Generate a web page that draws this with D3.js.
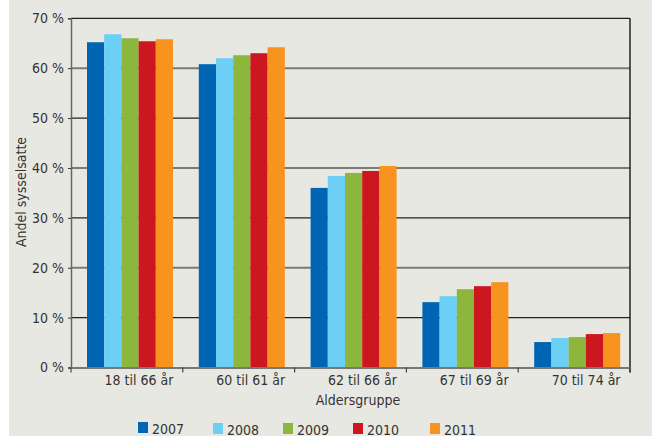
<!DOCTYPE html>
<html><head><meta charset="utf-8">
<script src="https://cdn.jsdelivr.net/npm/d3@7"></script>
<style>
html,body{margin:0;padding:0;background:#fff;}
svg text{font-family:"Liberation Sans Narrow","DejaVu Sans Condensed","Liberation Sans",sans-serif;fill:#333;}
</style></head>
<body>
<svg id="c" width="652" height="437"></svg>
<script>
const categories = ["18 til 66 år","60 til 61 år","62 til 66 år","67 til 69 år","70 til 74 år"];
const years = ["2007","2008","2009","2010","2011"];
const s2007 = [65.2, 60.8, 36.0, 13.1, 5.1];
const s2008 = [66.8, 62.0, 38.4, 14.3, 5.9];
const s2009 = [66.0, 62.6, 39.0, 15.7, 6.1];
const s2010 = [65.4, 63.0, 39.4, 16.3, 6.7];
const s2011 = [65.8, 64.2, 40.4, 17.1, 6.9];
const yTicks = [0,10,20,30,40,50,60,70];
const colors = ["#0066b3","#6ccff6","#8db63c","#cc1720","#f7931e"];
const series = [s2007,s2008,s2009,s2010,s2011];

const svg = d3.select("#c");
svg.append("rect").attr("x",9).attr("y",0).attr("width",643).attr("height",436).attr("fill","#e8e8e2");

const m = {l:71, r:630, t:18.3, b:367.5};
const x = d3.scaleBand().domain(categories).range([m.l,m.r]).paddingInner(0).paddingOuter(0);
const y = d3.scaleLinear().domain([0,70]).range([m.b,m.t]);
const xi = d3.scaleBand().domain(years).range([16, 16+86]).padding(0);

// gridlines
const g = svg.append("g");
yTicks.filter(d=>d>0).forEach((d,i)=>{
  const dark = (d/10)%2===1;
  g.append("line").attr("x1",m.l).attr("x2",m.r).attr("y1",y(d)).attr("y2",y(d))
   .attr("stroke", dark? "#222":"#7a7a76").attr("stroke-width", dark?1.2:2);
});

// bars
const data = [];
categories.forEach((c,ci)=>years.forEach((yr,yi)=>data.push({c,yr,v:series[yi][ci],col:colors[yi]})));
svg.append("g").selectAll("rect").data(data).join("rect")
  .attr("x",d=>x(d.c)+xi(d.yr)).attr("width",xi.bandwidth())
  .attr("y",d=>y(d.v)).attr("height",d=>y(0)-y(d.v)).attr("fill",d=>d.col);

// right border
svg.append("line").attr("x1",m.r).attr("x2",m.r).attr("y1",m.t).attr("y2",m.b+5).attr("stroke","#222").attr("stroke-width",1.5);

// y axis
const ya = svg.append("g").attr("transform",`translate(${m.l},0)`)
  .call(d3.axisLeft(y).tickValues(yTicks).tickFormat(d=>d+" %").tickSize(3).tickPadding(4));
ya.select(".domain").attr("stroke","#666").attr("stroke-width",1.5);
ya.selectAll(".tick line").attr("stroke","#333");
ya.selectAll("text").style("font-size","14px").attr("fill","#333");

// x axis
const xa = svg.append("g").attr("transform",`translate(0,${m.b})`)
  .call(d3.axisBottom(x).tickSize(0).tickPadding(0));
xa.select(".domain").attr("stroke","#777").attr("stroke-width",2);
xa.selectAll(".tick text").attr("y",17.5).attr("dy",0).attr("dx",12).style("font-size","14px").attr("fill","#333");
// boundary ticks
xa.selectAll(".bt").data(d3.range(categories.length+1)).join("line")
  .attr("x1",i=>m.l+i*x.bandwidth()).attr("x2",i=>m.l+i*x.bandwidth())
  .attr("y1",0).attr("y2",5).attr("stroke","#444").attr("stroke-width",1.2);

// titles
svg.append("text").attr("x",358).attr("y",405).attr("text-anchor","middle").style("font-size","14px").text("Aldersgruppe");
svg.append("text").attr("transform","translate(26,192) rotate(-90)").attr("text-anchor","middle").style("font-size","14px").text("Andel sysselsatte");

// legend
const lx = [138,213,283,353,430];
const lg = svg.append("g");
years.forEach((yr,i)=>{
  lg.append("rect").attr("x",lx[i]).attr("y",422+ (i===0?0:1)).attr("width",10).attr("height",11).attr("fill",colors[i]);
  lg.append("text").attr("x",lx[i]+14).attr("y",434+(i===0?0:1)).style("font-size","14px").text(yr);
});
</script>
</body></html>
